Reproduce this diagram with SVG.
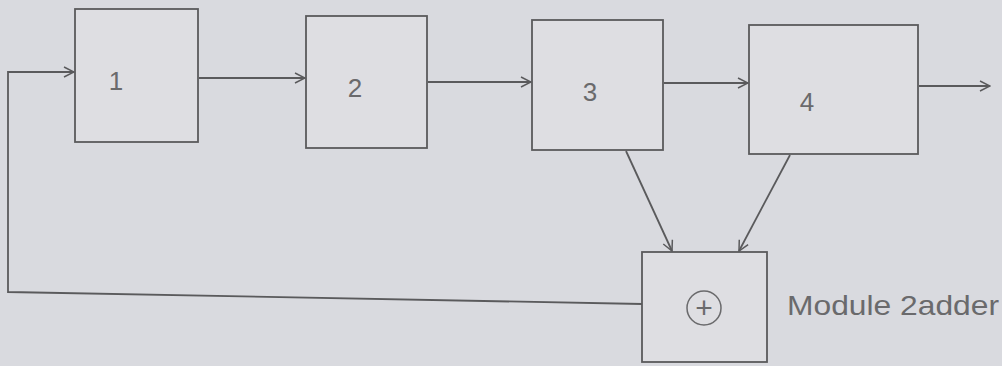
<svg xmlns="http://www.w3.org/2000/svg" width="1002" height="366" viewBox="0 0 1002 366">
<defs>
<marker id="arr" viewBox="0 0 12 12" refX="11" refY="6" markerWidth="12" markerHeight="12" markerUnits="userSpaceOnUse" orient="auto">
<path d="M1,1 L11,6 L1,11" fill="none" stroke="#5a5a5c" stroke-width="1.5"/>
</marker>
</defs>
<style>
.box{fill:#dedee2;stroke:#5a5a5c;stroke-width:1.8}
.conn{fill:none;stroke:#5a5a5c;stroke-width:1.8;marker-end:url(#arr)}
.lbl{font-family:"Liberation Sans",sans-serif;font-size:26px;fill:#6a6a6c;text-anchor:middle}
</style>
<rect width="1002" height="366" fill="#d9dadf"/>
<g id="connectors">
<path class="conn" d="M642,304 L8,292 L8,72 L74,72"/>
<line class="conn" x1="199" y1="78" x2="305" y2="78"/>
<line class="conn" x1="428" y1="82" x2="531" y2="82"/>
<line class="conn" x1="664" y1="83" x2="748" y2="83"/>
<line class="conn" x1="919" y1="86" x2="990" y2="86"/>
<line class="conn" x1="626" y1="151" x2="672" y2="251"/>
<line class="conn" x1="790" y1="155" x2="739" y2="251"/>
</g>
<g id="node1"><rect class="box" x="75" y="9" width="123" height="133"/><text class="lbl" x="116" y="90">1</text></g>
<g id="node2"><rect class="box" x="306" y="16" width="121" height="132"/><text class="lbl" x="355" y="97">2</text></g>
<g id="node3"><rect class="box" x="532" y="20" width="131" height="130"/><text class="lbl" x="590" y="101">3</text></g>
<g id="node4"><rect class="box" x="749" y="25" width="169" height="129"/><text class="lbl" x="807" y="111">4</text></g>
<g id="adder"><rect class="box" x="642" y="252" width="125" height="110"/>
<circle cx="704" cy="308" r="17" fill="none" stroke="#6a6a6c" stroke-width="1.5"/>
<text class="lbl" x="704" y="318" style="font-size:30px">+</text>
<text x="787" y="315" style="font-family:'Liberation Sans',sans-serif;font-size:28px;fill:#6a6a6c" textLength="212" lengthAdjust="spacingAndGlyphs">Module 2adder</text>
</g>
</svg>
